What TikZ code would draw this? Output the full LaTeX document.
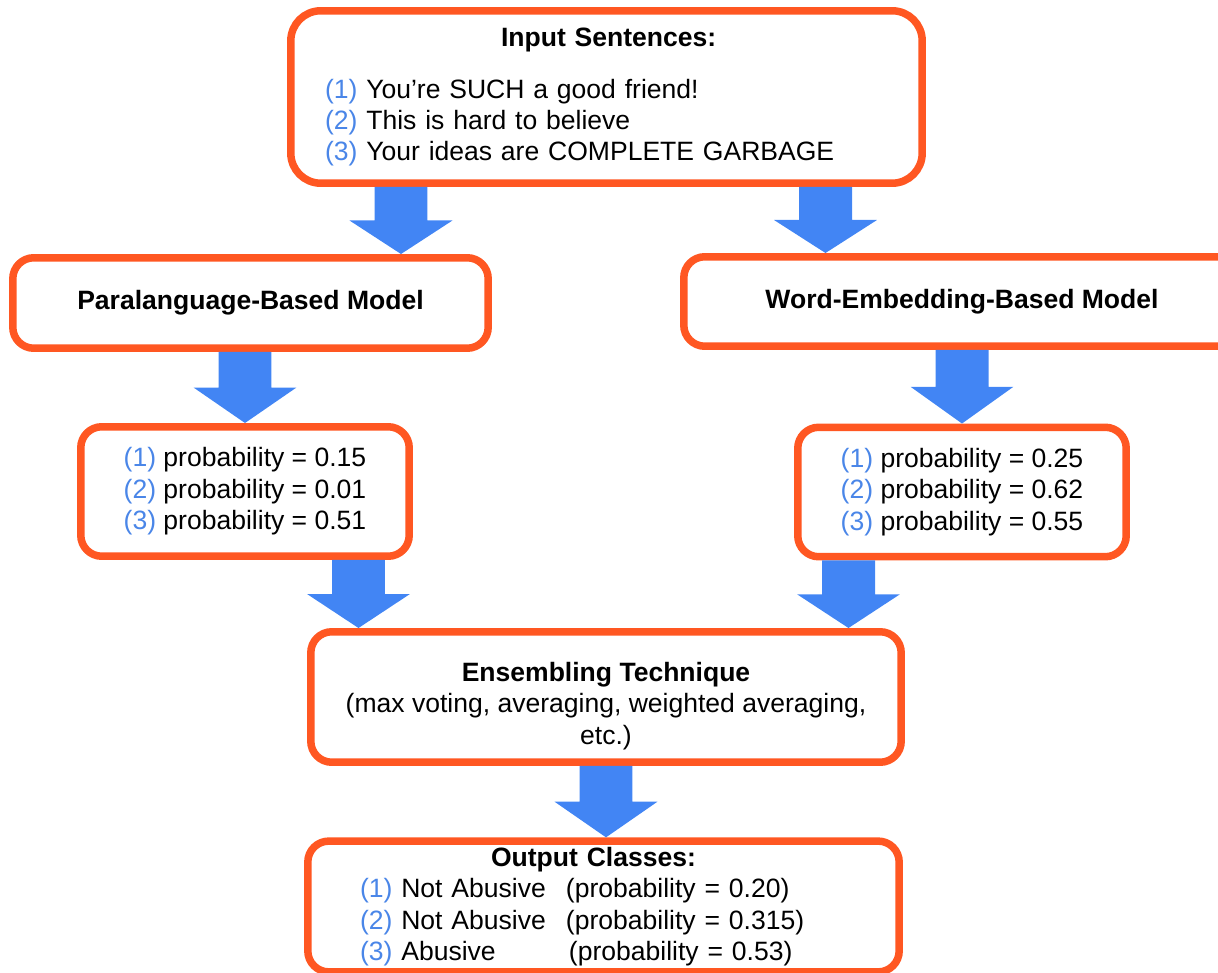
\documentclass[tikz,border=0pt]{standalone}
\usepackage{fontspec}
\setmainfont{Liberation Sans}
\usetikzlibrary{calc}
\definecolor{boxorange}{RGB}{255,87,34}
\definecolor{arrowblue}{RGB}{66,133,244}
\definecolor{numblue}{RGB}{74,134,232}
\newcommand{\nb}[1]{\textcolor{numblue}{(#1)}}
\tikzstyle{box} = [rectangle, rounded corners=0.42cm,
                   draw=boxorange, fill=white, text=black,
                   line width=0.15cm, align=center]
\tikzstyle{bigarrow} = [fill=arrowblue, to path={
    let \p1=(\tikztostart), \p2=(\tikztotarget),
        \p3=($(\tikztostart)!0.5!(\tikztotarget)$) in
    (\x1-0.53cm,\y1) -- (\x1+0.53cm,\y1) -- (\x1+0.53cm,\y3)
    -- (\x2+1.03cm,\y3) -- (\x2,\y2) -- (\x2-1.03cm,\y3)
    -- (\x1-0.53cm,\y3) -- cycle}]

\begin{document}
\begin{tikzpicture}[x=0.02cm, y=-0.02cm, font=\fontsize{15.1}{17.9}\selectfont]
        \useasboundingbox (0,0) rectangle (1218,973);

        %Input
        \node (in) [box, rounded corners=0.6cm, minimum width=12.63cm, minimum height=3.45cm,
                    text width=11.26cm, align=left] at (606.5,97)
              {\hspace*{3.52cm}\textbf{Input Sentences:}\\[0.41cm]
               \nb{1} You’re SUCH a good friend!\\
               \nb{2} This is hard to believe\\
               \nb{3} Your ideas are COMPLETE GARBAGE};

        %Models
        \node (para) [box, minimum width=9.51cm, minimum height=1.81cm] at (250.5,303)
              {\textbf{Paralanguage-Based Model}};
        \node (word) [box, minimum width=11.13cm, minimum height=1.79cm] at (962,301.5)
              {\textbf{Word-Embedding-Based Model}};

        %Probabilities
        \node (probL) [box, minimum width=6.57cm, minimum height=2.59cm, align=left] at (245,491.5)
              {\nb{1} probability = 0.15\\ \nb{2} probability = 0.01\\ \nb{3} probability = 0.51};
        \node (probR) [box, minimum width=6.57cm, minimum height=2.59cm, align=left] at (962,492)
              {\nb{1} probability = 0.25\\ \nb{2} probability = 0.62\\ \nb{3} probability = 0.55};

        %Ensemble
        \node (ens) [box, minimum width=11.81cm, minimum height=2.61cm] at (606,697)
              {\rule{0pt}{0.74cm}\textbf{Ensembling Technique}\\
               (max voting, averaging, weighted averaging,\\ etc.)};

        %Output
        \node (out) [box, minimum width=11.83cm, minimum height=2.55cm,
                     text width=9.74cm, align=left] at (603.5,906.5)
              {\hspace*{2.62cm}\textbf{Output Classes:}\\
               \makebox[4.12cm][l]{\nb{1} Not Abusive}(probability = 0.20)\\
               \makebox[4.12cm][l]{\nb{2} Not Abusive}(probability = 0.315)\\
               \makebox[4.18cm][l]{\nb{3} Abusive}(probability = 0.53)};

        %Arrows
        \coordinate (c1) at (401,0);
        \coordinate (c2) at (825.5,0);
        \coordinate (c5) at (358.5,0);
        \coordinate (c6) at (848.5,0);
        \path [bigarrow] (in.south -| c1) to (para.north -| c1);
        \path [bigarrow] (in.south -| c2) to (word.north -| c2);
        \path [bigarrow] (para.south -| probL.north) to (probL.north);
        \path [bigarrow] (word.south -| probR.north) to (probR.north);
        \path [bigarrow] (probL.south -| c5) to (ens.north -| c5);
        \path [bigarrow] (probR.south -| c6) to (ens.north -| c6);
        \path [bigarrow] (ens.south) to (ens.south |- out.north);

    \end{tikzpicture}
\end{document}
